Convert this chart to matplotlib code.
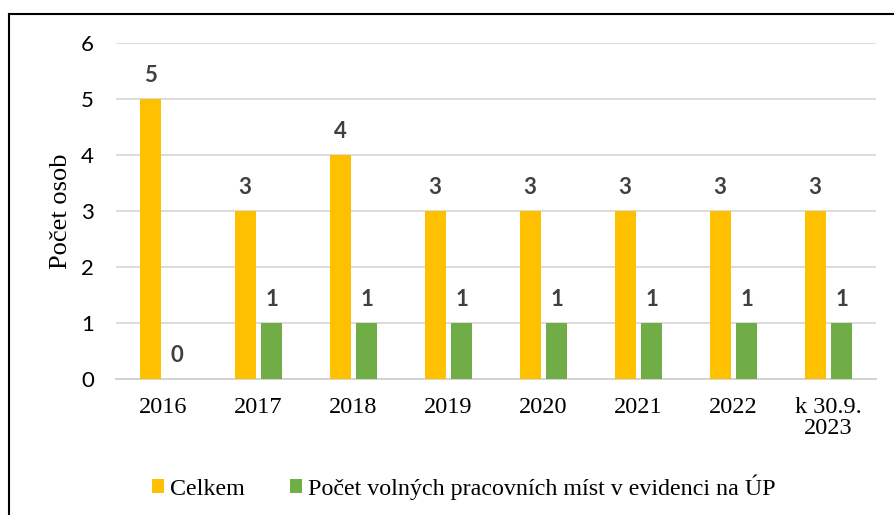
import matplotlib
matplotlib.use("Agg")
import matplotlib.pyplot as plt
from matplotlib.lines import Line2D
from matplotlib.patches import Patch
import numpy as np

categories = ["2016", "2017", "2018", "2019", "2020", "2021", "2022", "k 30.9.\n2023"]
celkem = [5, 3, 4, 3, 3, 3, 3, 3]
volna_mista = [0, 1, 1, 1, 1, 1, 1, 1]
series_names = ["Celkem", "Počet volných pracovních míst v evidenci na ÚP"]
colors = ["#FFC000", "#70AD47"]

W, H = 894, 515
fig = plt.figure(figsize=(W / 100, H / 100), dpi=100)
ax = fig.add_axes([116 / W, 136 / H, 760 / W, 336 / H])

x = np.arange(len(categories))
bw = 0.221
off = 0.142
b1 = ax.bar(x - off, celkem, bw, color=colors[0], zorder=3)
b2 = ax.bar(x + off, volna_mista, bw, color=colors[1], zorder=3)

serif = "Liberation Serif"
sans = "Lato"
for bars, vals in ((b1, celkem), (b2, volna_mista)):
    for rect, v in zip(bars, vals):
        ax.annotate(str(v), (rect.get_x() + rect.get_width() / 2, v),
                    xytext=(0, 12.5), textcoords="offset points",
                    ha="center", va="baseline", fontsize=16, fontweight="bold",
                    color="#404040", family=sans)

ax.set_xlim(-0.5, len(categories) - 0.5)
ax.set_ylim(0, 6)
ax.set_yticks(range(0, 7))
ax.yaxis.grid(True, color="#D9D9D9", linewidth=1.3, zorder=0)
ax.set_axisbelow(True)
for s in ("top", "right", "left"):
    ax.spines[s].set_visible(False)
ax.spines["bottom"].set_color("#D0D0D0")
ax.spines["bottom"].set_linewidth(1.3)

ax.set_xticks(x)
ax.set_xticklabels(categories, family=serif, fontsize=17.5, linespacing=1.0)
ax.tick_params(axis="x", length=0, pad=13)
ax.tick_params(axis="y", length=0, pad=16, labelsize=16)
for t in ax.get_yticklabels():
    t.set_family(sans)

ax.set_ylabel("Počet osob", family=serif, fontsize=19)
ax.yaxis.set_label_coords(-0.058, 0.5)

handles = [Patch(facecolor=c, edgecolor="none") for c in colors]
leg = fig.legend(handles, series_names, loc="center", ncol=2,
                 bbox_to_anchor=(464 / W, 1 - 487 / H), frameon=False,
                 prop={"family": serif, "size": 17.3},
                 handlelength=0.5, handleheight=0.5, handletextpad=0.25,
                 columnspacing=1.9)

# outer frame (top and left edges visible)
fig.add_artist(Line2D([9 / W, 1.0], [1 - 14 / H, 1 - 14 / H], transform=fig.transFigure,
                      color="black", linewidth=1.5))
fig.add_artist(Line2D([9 / W, 9 / W], [0, 1 - 14 / H], transform=fig.transFigure,
                      color="black", linewidth=1.5))

fig.savefig("out.png", dpi=100)
